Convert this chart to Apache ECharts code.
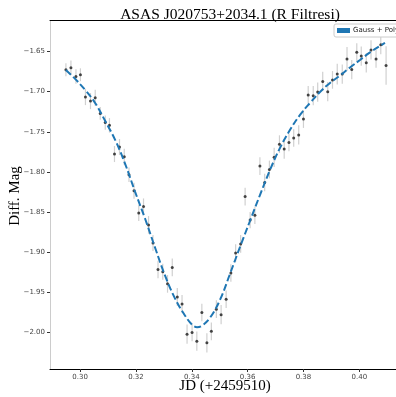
<!DOCTYPE html>
<html>
<head>
<meta charset="utf-8">
<script src="https://cdn.jsdelivr.net/npm/echarts@6/dist/echarts.min.js"></script>
<style>html,body{margin:0;padding:0;background:#fff}#c{width:396px;height:397px}</style>
</head>
<body>
<div id="c"></div>
<script>
// Observed data (JD - 2459510, differential magnitude, error)
const jd = [0.2949,0.2967,0.2985,0.3001,0.3019,0.3037,0.3054,0.3072,0.3090,0.3105,
0.3123,0.3141,0.3158,0.3175,0.3193,0.3210,0.3227,0.3245,0.3261,0.3279,
0.3296,0.3313,0.3330,0.3348,0.3365,0.3383,0.3401,0.3418,0.3436,0.3454,
0.3470,0.3488,0.3505,0.3523,0.3540,0.3557,0.3575,0.3591,0.3609,0.3626,
0.3644,0.3661,0.3678,0.3695,0.3714,0.3731,0.3748,0.3765,0.3783,0.3800,
0.3817,0.3835,0.3851,0.3869,0.3887,0.3904,0.3921,0.3939,0.3956,0.3973,
0.3991,0.4007,0.4025,0.4042,0.4060,0.4077,0.4096];
const mag = [-1.6728,-1.6703,-1.6813,-1.6790,-1.7068,-1.7118,-1.7076,-1.7271,-1.7386,-1.7420,
-1.7777,-1.7690,-1.7812,-1.8036,-1.8234,-1.8511,-1.8430,-1.8660,-1.8886,-1.9215,
-1.9243,-1.9394,-1.9189,-1.9556,-1.9644,-2.0020,-1.9999,-2.0107,-1.9750,-2.0128,
-1.9985,-1.9709,-1.9777,-1.9585,-1.9259,-1.9010,-1.8897,-1.8307,-1.8600,-1.8540,
-1.7927,-1.8132,-1.7969,-1.7818,-1.7654,-1.7716,-1.7634,-1.7578,-1.7539,-1.7342,
-1.7041,-1.7050,-1.7006,-1.6873,-1.7001,-1.6854,-1.6782,-1.6782,-1.6593,-1.6726,
-1.6509,-1.6558,-1.6641,-1.6481,-1.6593,-1.6415,-1.6674];
const err = [0.008,0.009,0.009,0.008,0.010,0.010,0.010,0.008,0.009,0.009,
0.010,0.010,0.010,0.009,0.010,0.010,0.010,0.011,0.010,0.011,
0.010,0.011,0.011,0.011,0.011,0.012,0.011,0.012,0.011,0.012,
0.011,0.011,0.012,0.011,0.011,0.011,0.011,0.011,0.010,0.011,
0.011,0.011,0.011,0.012,0.011,0.012,0.011,0.011,0.012,0.011,
0.011,0.012,0.012,0.012,0.012,0.011,0.013,0.012,0.015,0.012,
0.011,0.012,0.012,0.012,0.011,0.012,0.024];
// Fitted curve (Gauss + Poly)
const fitJd = [0.29488,0.29821,0.30179,0.30537,0.30895,0.31253,0.31611,0.31969,0.32327,0.32685,
0.33043,0.33401,0.33759,0.34010,0.34189,0.34368,0.34654,0.35013,0.35371,0.35729,
0.36087,0.36445,0.36803,0.37161,0.37519,0.37877,0.38235,0.38593,0.38951,0.39309,
0.39667,0.40025,0.40383,0.40741,0.40920];
const fitMag = [-1.6730,-1.6842,-1.6979,-1.7141,-1.7364,-1.7601,-1.7899,-1.8248,-1.8583,-1.8944,
-1.9292,-1.9578,-1.9790,-1.9902,-1.9933,-1.9914,-1.9815,-1.9591,-1.9267,-1.8932,
-1.8608,-1.8285,-1.7974,-1.7700,-1.7476,-1.7290,-1.7141,-1.7004,-1.6892,-1.6799,
-1.6699,-1.6606,-1.6512,-1.6432,-1.6394];
const xTicks = [0.30,0.32,0.34,0.36,0.38,0.40];
const yTicks = [-2.00,-1.95,-1.90,-1.85,-1.80,-1.75,-1.70,-1.65];
const xName = 'JD (+2459510)';
const yName = 'Diff. Mag';

const chart = echarts.init(document.getElementById('c'));
const pts = jd.map((x,i)=>[x,mag[i]]);
const bars = jd.map((x,i)=>[x,mag[i]-err[i],mag[i]+err[i]]);
const fit = fitJd.map((x,i)=>[x,fitMag[i]]);
const serif = "'Liberation Serif','Times New Roman',serif";
const sans = "'DejaVu Sans',sans-serif";
const fmtY = v => (v<0?'\u2212':'') + Math.abs(v).toFixed(2);

chart.setOption({
  animation:false,
  backgroundColor:'#fff',
  title:{text:'ASAS J020753+2034.1 (R Filtresi)', left:225, top:2, textAlign:'center',
    textStyle:{fontFamily:serif, fontSize:15.5, fontWeight:'normal', color:'#000'}},
  legend:{data:[{name:'Gauss + Poly', icon:'rect'}], left:334, top:24, itemWidth:13, itemHeight:5,
    itemGap:4, padding:[3,4,3,3], borderColor:'#ccc', borderWidth:1, borderRadius:2, backgroundColor:'#fff',
    textStyle:{fontFamily:sans, fontSize:7, color:'#222', padding:[0,0,0,-2]}},
  graphic:[
    {type:'text', x:225, y:386, style:{text:xName, fill:'#000', font:"15px 'Liberation Serif',serif",
      textAlign:'center', textVerticalAlign:'middle'}},
    {type:'text', x:15.5, y:196, rotation:Math.PI/2, style:{text:yName, fill:'#000', font:"15px 'Liberation Serif',serif",
      textAlign:'center', textVerticalAlign:'middle'}}
  ],
  grid:{left:50, right:-6, top:20.7, bottom:28, containLabel:false, outerBoundsMode:'none'},
  xAxis:[{type:'value', min:0.2892, max:0.4153, position:'bottom',
    axisLine:{show:true, lineStyle:{color:'#000', width:1}},
    axisTick:{show:true, length:3, inside:false, customValues:xTicks, lineStyle:{color:'#333'}},
    axisLabel:{customValues:xTicks, formatter:v=>v.toFixed(2), fontFamily:sans, fontSize:7, color:'#444', margin:5},
    splitLine:{show:false}},
   {type:'value', min:0.2892, max:0.4153, position:'top',
    axisLine:{show:true, onZero:false, lineStyle:{color:'#000', width:1}},
    axisTick:{show:false}, axisLabel:{show:false}, splitLine:{show:false}}],
  yAxis:{type:'value', min:-2.0454, max:-1.6117,
    axisLine:{show:true, lineStyle:{color:'#ccc', width:1}},
    axisTick:{show:true, length:3, customValues:yTicks, lineStyle:{color:'#333'}},
    axisLabel:{customValues:yTicks, formatter:fmtY, fontFamily:sans, fontSize:7, color:'#444', margin:5},
    splitLine:{show:false}},
  series:[
    {type:'custom', name:'err', z:1, data:bars, encode:{x:0, y:[1,2]},
      renderItem:(params, api)=>{
        const a = api.coord([api.value(0), api.value(1)]);
        const b = api.coord([api.value(0), api.value(2)]);
        return {type:'line', shape:{x1:a[0], y1:a[1], x2:b[0], y2:b[1]},
          style:{stroke:'#d0d0d0', lineWidth:1.2}};
      }},
    {type:'scatter', name:'obs', z:2, data:pts, symbol:'circle', symbolSize:3,
      itemStyle:{color:'#1a1a1a'}},
    {type:'line', name:'Gauss + Poly', z:3, data:fit, smooth:0.4, showSymbol:false,
      lineStyle:{color:'#1f77b4', width:2, type:[7,3]}, itemStyle:{color:'#1f77b4'}}
  ]
});
</script>
</body>
</html>
